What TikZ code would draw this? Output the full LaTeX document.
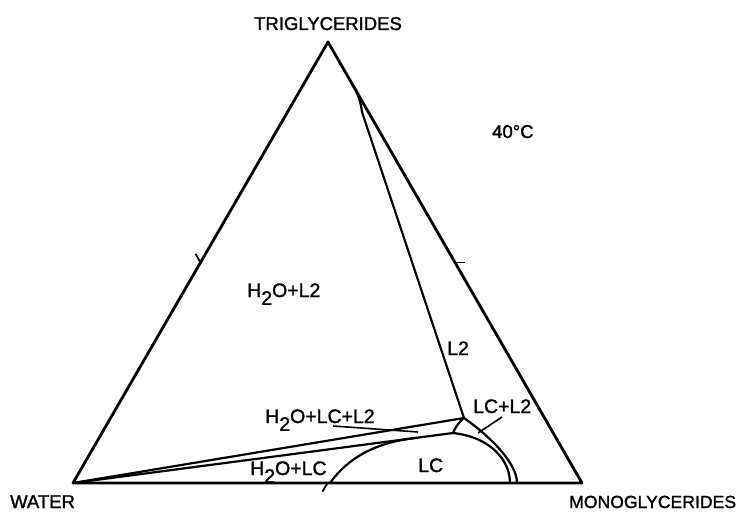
\documentclass[tikz,border=0pt]{standalone}
\usepackage{fontspec}
\setmainfont[FakeBold=1.4]{Liberation Sans}
\usetikzlibrary{calc}
\newcommand{\subtwo}{\raisebox{-0.4em}{2}}
\begin{document}
\begin{tikzpicture}[x=1pt,y=-1pt,
  frame/.style={line width=2.8pt,line join=round,line cap=round},
  bound/.style={line width=2.2pt,line join=round,line cap=round},
  leader/.style={line width=1.6pt},
  tick/.style={line width=1.8pt},
  lab/.style={inner sep=0pt,anchor=base west,font=\fontsize{19.5}{22}\selectfont},
  corner/.style={inner sep=0pt,anchor=base west,font=\fontsize{18.5}{22}\selectfont}]
\useasboundingbox (0,0) rectangle (743,511);
% vertices
\coordinate (T) at (328,42);
\coordinate (W) at (73,483);
\coordinate (M) at (582,483);
% junctions
\coordinate (P1) at (464,418);
\coordinate (P2) at (453,433);
\coordinate (Q) at (362,112);
\coordinate (S) at (354,87);
\coordinate (B1) at (517,483);
\coordinate (B2) at (510,483);
\coordinate (B3) at (330,483);
\coordinate (D) at (415,438);
% tick coordinates
\coordinate (mL) at ($(W)!0.5!(T)$);
\coordinate (mR) at ($(T)!0.5!(M)$);
\coordinate (mB) at ($(W)!0.5!(M)$);
\coordinate (tL) at ($(mL)+(-5,-8.7)$);
\coordinate (tR) at ($(mR)+(10,0)$);
\coordinate (tB) at ($(mB)+(-5,8.7)$);
% triangle
\draw[frame] (W) -- (T) -- (M) -- cycle;
% ticks
\draw[tick] (mL) -- (tL);
\draw[tick] (mR) -- (tR);
\draw[tick] (mB) -- (tB);
% boundaries
\draw[bound] (W) -- (P1);
\draw[bound] (W) -- (P2);
\draw[bound] (P1) .. controls (458,423) and (455,428) .. (P2);
\draw[bound] (P1) -- (Q) .. controls (361,104) and (359,96) .. (S);
\draw[bound] (P1) .. controls (495,440) and (517,465) .. (B1);
\draw[bound] (P2) .. controls (490,437) and (510,460) .. (B2);
\draw[bound] (B3) .. controls (350,455) and (380,442) .. (D);
% leaders
\coordinate (l1a) at (333,426);
\coordinate (l1b) at (418,432);
\coordinate (l2a) at (502,417);
\coordinate (l2b) at (478,433);
\draw[leader] (l1a) -- (l1b);
\draw[leader] (l2a) -- (l2b);
% labels
\node[corner,anchor=base] (tri) at (328,30) {TRIGLYCERIDES};
\node[corner] (wat) at (10,508) {WATER};
\node[corner,font=\fontsize{17.6}{22}\selectfont] (mono) at (569,508) {MONOGLYCERIDES};
\node[corner] (temp) at (492,138) {40°C};
\node[lab] (h2ol2) at (247,297) {H\subtwo O+L2};
\node[lab] (l2) at (447,355) {L2};
\node[lab] (lcl2) at (473,413) {LC+L2};
\node[lab] (h2olcl2) at (265,423) {H\subtwo O+LC+L2};
\node[lab] (h2olc) at (250,475) {H\subtwo O+LC};
\node[lab] (lc) at (418,472) {LC};
\end{tikzpicture}
\end{document}
